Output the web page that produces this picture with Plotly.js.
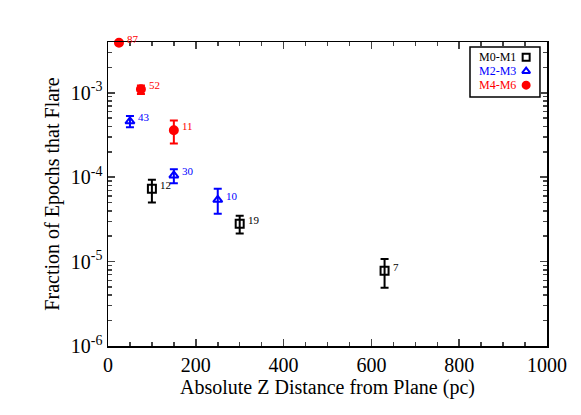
<!DOCTYPE html>
<html>
<head>
<meta charset="utf-8">
<script src="https://cdn.plot.ly/plotly-3.0.1.min.js"></script>
<style>
  body { margin: 0; background: #fff; }
  #plot { width: 581px; height: 415px; }
</style>
</head>
<body>
<div id="plot"></div>
<script>
// M0-M1 (black squares)
const m01Dist = [100, 300, 630];
const m01Frac = [7.3e-5, 2.8e-5, 7.8e-6];
const m01Hi = [9.3e-5, 3.5e-5, 1.07e-5];
const m01Lo = [5.0e-5, 2.15e-5, 4.9e-6];
const m01Count = [12, 19, 7];

// M2-M3 (blue triangles)
const m23Dist = [50, 150, 250];
const m23Frac = [4.6e-4, 1.05e-4, 5.4e-5];
const m23Hi = [5.3e-4, 1.24e-4, 7.3e-5];
const m23Lo = [3.9e-4, 8.5e-5, 3.7e-5];
const m23Count = [43, 30, 10];

// M4-M6 (red circles)
const m46Dist = [25, 75, 150];
const m46Frac = [3.92e-3, 1.1e-3, 3.6e-4];
const m46Hi = [4.1e-3, 1.22e-3, 4.7e-4];
const m46Lo = [3.72e-3, 0.97e-3, 2.5e-4];
const m46Count = [87, 52, 11];

// legend rows, top to bottom
const groupNames = ["M0-M1", "M2-M3", "M4-M6"];
const groupColors = ["black", "blue", "red"];
const groupSymbols = ["square-open", "triangle-up-open", "circle"];

const yTickVals = [1e-6, 1e-5, 1e-4, 1e-3];
const yTickText = ["10<sup>-6</sup>", "10<sup>-5</sup>", "10<sup>-4</sup>", "10<sup>-3</sup>"];

const serif = "Liberation Serif, Times New Roman, serif";

function makeTrace(k, x, y, hi, lo) {
  const color = groupColors[k];
  return {
    x: x,
    y: y,
    name: groupNames[k],
    mode: "markers",
    type: "scatter",
    showlegend: false,
    cliponaxis: false,
    marker: { symbol: groupSymbols[k], size: 8, color: color, line: { color: color, width: 2 } },
    error_y: {
      type: "data",
      symmetric: false,
      array: hi.map((v, i) => v - y[i]),
      arrayminus: lo.map((v, i) => y[i] - v),
      color: color,
      thickness: 2,
      width: 4
    }
  };
}

// small count labels next to each point
function makeLabels(x, y, counts, color) {
  return x.map((xv, i) => ({
    x: xv,
    y: Math.log10(y[i]),
    text: String(counts[i]),
    showarrow: false,
    xanchor: "left",
    xshift: 6,
    yshift: 4,
    font: { family: serif, size: 11, color: color }
  }));
}

const data = [
  makeTrace(0, m01Dist, m01Frac, m01Hi, m01Lo),
  makeTrace(1, m23Dist, m23Frac, m23Hi, m23Lo),
  makeTrace(2, m46Dist, m46Frac, m46Hi, m46Lo)
];

// legend keys sit on a small inset axis, symbol to the right of the name
const rowIndex = groupNames.map((n, i) => groupNames.length - 1 - i);
groupNames.forEach((name, i) => {
  data.push({
    x: [0],
    y: [rowIndex[i]],
    xaxis: "x2",
    yaxis: "y2",
    mode: "markers",
    type: "scatter",
    showlegend: false,
    hoverinfo: "skip",
    marker: { symbol: groupSymbols[i], size: 7, color: groupColors[i], line: { color: groupColors[i], width: 2 } }
  });
});

const legendText = groupNames.map((name, i) => ({
  xref: "x2 domain",
  yref: "y2",
  x: -0.2,
  y: rowIndex[i],
  xanchor: "right",
  yanchor: "middle",
  text: name,
  showarrow: false,
  font: { family: serif, size: 12, color: groupColors[i] }
}));

const annotations = []
  .concat(makeLabels(m01Dist, m01Frac, m01Count, "black"))
  .concat(makeLabels(m23Dist, m23Frac, m23Count, "blue"))
  .concat(makeLabels(m46Dist, m46Frac, m46Count, "red"))
  .concat(legendText);

const layout = {
  width: 581,
  height: 415,
  margin: { l: 108, r: 34, t: 42, b: 69 },
  paper_bgcolor: "white",
  plot_bgcolor: "white",
  font: { family: serif, size: 20, color: "black" },
  showlegend: false,
  xaxis: {
    range: [0, 1000],
    dtick: 200,
    tick0: 0,
    ticks: "inside",
    ticklen: 7,
    tickwidth: 1.5,
    minor: { dtick: 50, ticks: "inside", ticklen: 4, tickwidth: 1.5 },
    showline: true,
    linecolor: "black",
    linewidth: 1.5,
    mirror: "allticks",
    showgrid: false,
    zeroline: false,
    tickfont: { family: serif, size: 20 },
    title: { text: "Absolute Z Distance from Plane (pc)", font: { family: serif, size: 20 }, standoff: 2 }
  },
  yaxis: {
    type: "log",
    range: [-6, Math.log10(4e-3)],
    tickvals: yTickVals,
    ticktext: yTickText,
    ticks: "inside",
    ticklen: 7,
    tickwidth: 1.5,
    minor: { dtick: "D1", ticks: "inside", ticklen: 4, tickwidth: 1.5 },
    showline: true,
    linecolor: "black",
    linewidth: 1.5,
    mirror: "allticks",
    showgrid: false,
    zeroline: false,
    tickfont: { family: serif, size: 20 },
    title: { text: "Fraction of Epochs that Flare", font: { family: serif, size: 20 }, standoff: 6 }
  },
  xaxis2: {
    domain: [0.94, 0.965],
    range: [-1, 1],
    anchor: "y2",
    visible: false,
    fixedrange: true
  },
  yaxis2: {
    domain: [0.835, 0.973],
    range: [-0.5, 2.5],
    anchor: "x2",
    visible: false,
    fixedrange: true
  },
  shapes: [{
    type: "rect",
    xref: "paper",
    yref: "paper",
    x0: 0.8246, x1: 0.984,
    y0: 0.819, y1: 0.9836,
    line: { color: "black", width: 1.5 },
    fillcolor: "white",
    layer: "below"
  }],
  annotations: annotations
};

Plotly.newPlot("plot", data, layout, { displayModeBar: false, staticPlot: true });
</script>
</body>
</html>
